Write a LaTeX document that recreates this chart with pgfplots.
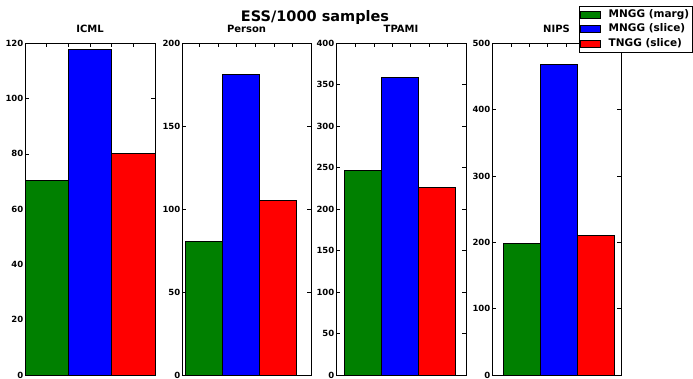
\documentclass[border=0pt]{standalone}
\usepackage{pgfplots}
\pgfplotsset{compat=1.18}
\usepackage{fontspec}
\setmainfont{DejaVu Sans}
\definecolor{mgreen}{RGB}{0,128,0}
\definecolor{mblue}{RGB}{0,0,255}
\definecolor{mred}{RGB}{255,0,0}
\pgfplotsset{
  sub/.style={
    scale only axis, anchor=south west,
    height=331.7pt,
    ymin=0,
    tick align=inside,
    xtick pos=both, ytick pos=both,
    xticklabels={},
    major tick length=4pt,
    every tick/.style={black, line width=0.6pt},
    axis line style={black, line width=0.8pt},
    /pgf/number format/assume math mode=true,
    yticklabel style={font=\bfseries\fontsize{8.5}{10}\selectfont, inner sep=1.5pt},
    title style={at={(0.5,1)}, anchor=base, yshift=5pt, font=\bfseries\fontsize{10}{12}\selectfont},
    clip=false,
  },
  mybar/.style={ybar, bar width=1, bar shift=0, draw=black, line width=0.6pt,
    legend image code/.code={\draw[##1, draw=black, line width=0.6pt] (0pt,-3.5pt) rectangle (20pt,3.5pt); \path[draw=none, fill=none] (26pt,0pt) circle (0pt);}},
}
\begin{document}
\begin{tikzpicture}
\useasboundingbox (0pt,0pt) rectangle (693pt,378pt);
% ICML
\begin{axis}[sub, at={(25pt,3pt)}, width=130pt, xmin=-0.5, xmax=2.5,
  ymax=120, ytick={0,20,...,120}, xtick={-0.5,0,...,2.5}, title={ICML}]
\addplot[mybar, fill=mgreen] coordinates {(0,70.3)};
\addplot[mybar, fill=mblue] coordinates {(1,117.9)};
\addplot[mybar, fill=mred] coordinates {(2,80.2)};
\end{axis}
% Person
\begin{axis}[sub, at={(182pt,3pt)}, width=129pt, xmin=-0.58, xmax=2.905,
  ymax=200, ytick={0,50,...,200}, xtick={-0.1,0.4,0.9,1.4,1.9,2.4,2.9}, title={Person}]
\addplot[mybar, fill=mgreen] coordinates {(0,80.6)};
\addplot[mybar, fill=mblue] coordinates {(1,181.3)};
\addplot[mybar, fill=mred] coordinates {(2,105.3)};
\end{axis}
% TPAMI
\begin{axis}[sub, at={(336pt,3pt)}, width=130pt, xmin=-0.725, xmax=2.8,
  ymax=400, ytick={0,50,...,400}, xtick={-0.2,0.3,0.8,1.3,1.8,2.3,2.8}, title={TPAMI}]
\addplot[mybar, fill=mgreen] coordinates {(0,246.8)};
\addplot[mybar, fill=mblue] coordinates {(1,359.4)};
\addplot[mybar, fill=mred] coordinates {(2,226.7)};
\end{axis}
% NIPS
\begin{axis}[sub, at={(492pt,3pt)}, width=129pt, xmin=-0.81, xmax=2.69,
  ymax=500, ytick={0,100,...,500}, xtick={-0.8,-0.3,0.2,0.7,1.2,1.7,2.2,2.7}, title={NIPS},
  legend style={at={(1.558,1.113)}, anchor=north east, draw=black, line width=0.6pt,
    font=\bfseries\fontsize{10.5}{12}\selectfont, inner sep=1.5pt, row sep=0.5pt,
    cells={anchor=west},
    nodes={text height=7.5pt, text depth=2.5pt, inner sep=2pt}}]
\addplot[mybar, fill=mgreen] coordinates {(0,198.3)};
\addlegendentry{MNGG (marg)}
\addplot[mybar, fill=mblue] coordinates {(1,467.9)};
\addlegendentry{MNGG (slice)}
\addplot[mybar, fill=mred] coordinates {(2,210.4)};
\addlegendentry{TNGG (slice)}
\end{axis}
\node[anchor=base, font=\bfseries\fontsize{14.5}{17}\selectfont] at (315pt,356pt) {ESS/1000 samples};
\end{tikzpicture}
\end{document}
